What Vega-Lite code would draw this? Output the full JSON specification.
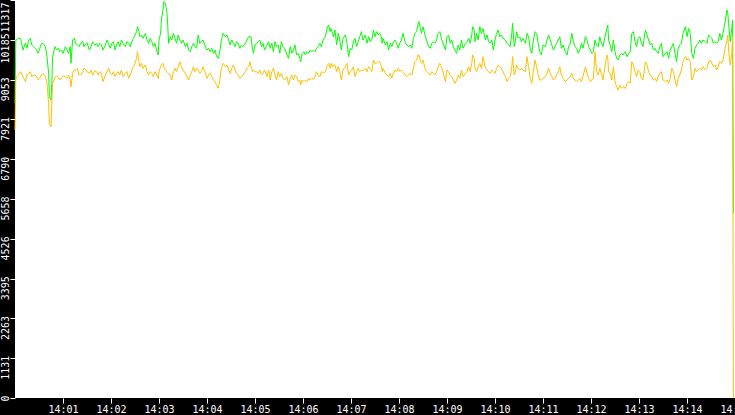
{
  "$schema": "https://vega.github.io/schema/vega-lite/v6.json",
  "autosize": "none",
  "width": 720,
  "height": 398,
  "padding": {"left": 15, "top": 0, "right": 0, "bottom": 17},
  "background": "black",
  "view": {"fill": "white", "stroke": null},
  "config": {
    "axis": {
      "labelFont": "DejaVu Sans Mono",
      "labelFontSize": 10,
      "labelColor": "white",
      "tickColor": "white",
      "tickSize": 5,
      "domain": false,
      "grid": false,
      "title": null,
      "labelOverlap": false,
      "labelBound": false,
      "labelFlush": false
    }
  },
  "data": {
    "values": [
      {"t":0,"g":8379,"o":7621},{"t":1,"g":10180,"o":9042},{"t":2,"g":10180,"o":9137},{"t":4,"g":10227,"o":9184},
      {"t":7,"g":10227,"o":9279},{"t":10,"g":9895,"o":9137},{"t":13,"g":10085,"o":8995},{"t":15,"g":9943,"o":9184},
      {"t":17,"g":10180,"o":9232},{"t":19,"g":10227,"o":9279},{"t":21,"g":10037,"o":9137},{"t":23,"g":9990,"o":9184},
      {"t":25,"g":9943,"o":9184},{"t":27,"g":9895,"o":9137},{"t":29,"g":9800,"o":9042},{"t":31,"g":9943,"o":9090},
      {"t":33,"g":10085,"o":9184},{"t":35,"g":10085,"o":9232},{"t":38,"g":9990,"o":9137},{"t":40,"g":9706,"o":8948},
      {"t":42,"g":9232,"o":8379},{"t":43,"g":8568,"o":7810},{"t":45,"g":8474,"o":7715},{"t":46,"g":8948,"o":8379},
      {"t":47,"g":9706,"o":8948},{"t":49,"g":9895,"o":9042},{"t":50,"g":9990,"o":9118},{"t":52,"g":9895,"o":9156},
      {"t":54,"g":9943,"o":9118},{"t":56,"g":9848,"o":9042},{"t":58,"g":9895,"o":9109},{"t":60,"g":9800,"o":9156},
      {"t":63,"g":9990,"o":9137},{"t":65,"g":9895,"o":9090},{"t":67,"g":9800,"o":9184},{"t":69,"g":9990,"o":9042},
      {"t":70,"g":9516,"o":8853},{"t":72,"g":10180,"o":9232},{"t":74,"g":10227,"o":9327},{"t":76,"g":10085,"o":9327},
      {"t":78,"g":10037,"o":9374},{"t":80,"g":9990,"o":9184},{"t":82,"g":10085,"o":9184},{"t":85,"g":10132,"o":9279},
      {"t":86,"g":9990,"o":9374},{"t":89,"g":10085,"o":9327},{"t":90,"g":10104,"o":9279},{"t":93,"g":9895,"o":9232},
      {"t":95,"g":9990,"o":9327},{"t":97,"g":10132,"o":9184},{"t":100,"g":10037,"o":9308},{"t":102,"g":10085,"o":9279},
      {"t":104,"g":9990,"o":9184},{"t":106,"g":10085,"o":9279},{"t":108,"g":10037,"o":9232},{"t":110,"g":9895,"o":8995},
      {"t":113,"g":10037,"o":9184},{"t":115,"g":10180,"o":9279},{"t":117,"g":10085,"o":9374},{"t":119,"g":9943,"o":9232},
      {"t":121,"g":10085,"o":9184},{"t":123,"g":10132,"o":9279},{"t":125,"g":9895,"o":9137},{"t":127,"g":10037,"o":9232},
      {"t":129,"g":10132,"o":9279},{"t":131,"g":9990,"o":9184},{"t":133,"g":10180,"o":9327},{"t":135,"g":10085,"o":9137},
      {"t":138,"g":9990,"o":9232},{"t":140,"g":10132,"o":9279},{"t":142,"g":10085,"o":9090},{"t":144,"g":9990,"o":9184},
      {"t":146,"g":10132,"o":9327},{"t":148,"g":10227,"o":9421},{"t":150,"g":10322,"o":9516},{"t":152,"g":10417,"o":9658},
      {"t":153,"g":10559,"o":9848},{"t":155,"g":10417,"o":9564},{"t":156,"g":10274,"o":9421},{"t":158,"g":10322,"o":9516},
      {"t":160,"g":10227,"o":9374},{"t":163,"g":10369,"o":9469},{"t":165,"g":10180,"o":9279},{"t":167,"g":10085,"o":9184},
      {"t":169,"g":10227,"o":9279},{"t":171,"g":10132,"o":9232},{"t":173,"g":9990,"o":9137},{"t":175,"g":10085,"o":9279},
      {"t":177,"g":9895,"o":9184},{"t":179,"g":9753,"o":9090},{"t":180,"g":10180,"o":9279},{"t":182,"g":10369,"o":9421},
      {"t":183,"g":10748,"o":9469},{"t":185,"g":11033,"o":9516},{"t":186,"g":11270,"o":9421},{"t":188,"g":11222,"o":9327},
      {"t":190,"g":10938,"o":9279},{"t":191,"g":10559,"o":9251},{"t":192,"g":10085,"o":9213},{"t":194,"g":10274,"o":9184},
      {"t":196,"g":10180,"o":9042},{"t":198,"g":10369,"o":9279},{"t":200,"g":10227,"o":9374},{"t":202,"g":10085,"o":9279},
      {"t":204,"g":10322,"o":9421},{"t":206,"g":10180,"o":9564},{"t":208,"g":10085,"o":9421},{"t":210,"g":10180,"o":9327},
      {"t":213,"g":9990,"o":9232},{"t":215,"g":10085,"o":9137},{"t":217,"g":9895,"o":9042},{"t":219,"g":9848,"o":9184},
      {"t":221,"g":9990,"o":9279},{"t":223,"g":10085,"o":9421},{"t":225,"g":9990,"o":9279},{"t":227,"g":9943,"o":9374},
      {"t":229,"g":10322,"o":9327},{"t":231,"g":10085,"o":9232},{"t":233,"g":10132,"o":9279},{"t":235,"g":10180,"o":9421},
      {"t":238,"g":9990,"o":9232},{"t":240,"g":9895,"o":9090},{"t":242,"g":9943,"o":9184},{"t":244,"g":9848,"o":9232},
      {"t":246,"g":9943,"o":9137},{"t":248,"g":9800,"o":9042},{"t":250,"g":9895,"o":8995},{"t":252,"g":9706,"o":8900},
      {"t":254,"g":9658,"o":8805},{"t":256,"g":9848,"o":9042},{"t":258,"g":10180,"o":9374},{"t":260,"g":10369,"o":9516},
      {"t":263,"g":10274,"o":9421},{"t":265,"g":10322,"o":9469},{"t":267,"g":10180,"o":9327},{"t":269,"g":10037,"o":9232},
      {"t":271,"g":10180,"o":9374},{"t":273,"g":10085,"o":9469},{"t":275,"g":9990,"o":9327},{"t":277,"g":10132,"o":9232},
      {"t":279,"g":10085,"o":9184},{"t":281,"g":9943,"o":9090},{"t":283,"g":10037,"o":9137},{"t":285,"g":9990,"o":9184},
      {"t":288,"g":10085,"o":9279},{"t":290,"g":10180,"o":9374},{"t":292,"g":10274,"o":9421},{"t":294,"g":10274,"o":9564},
      {"t":295,"g":10274,"o":9421},{"t":297,"g":9895,"o":9279},{"t":298,"g":9800,"o":9327},{"t":300,"g":10037,"o":9279},
      {"t":302,"g":10085,"o":9279},{"t":304,"g":10132,"o":9232},{"t":306,"g":10180,"o":9327},{"t":308,"g":9990,"o":9184},
      {"t":310,"g":10085,"o":9232},{"t":312,"g":9895,"o":9327},{"t":315,"g":10037,"o":9137},{"t":317,"g":10132,"o":9327},
      {"t":319,"g":9943,"o":9042},{"t":321,"g":10085,"o":9279},{"t":323,"g":9848,"o":9374},{"t":325,"g":10132,"o":9184},
      {"t":327,"g":9990,"o":9042},{"t":329,"g":10037,"o":9279},{"t":331,"g":9800,"o":9137},{"t":333,"g":10132,"o":9232},
      {"t":335,"g":9990,"o":9090},{"t":337,"g":9943,"o":9042},{"t":340,"g":9753,"o":9137},{"t":342,"g":9658,"o":8900},
      {"t":344,"g":9990,"o":9090},{"t":346,"g":9800,"o":9184},{"t":348,"g":9895,"o":9042},{"t":350,"g":10037,"o":9184},
      {"t":352,"g":9753,"o":9137},{"t":354,"g":9800,"o":8995},{"t":356,"g":9658,"o":9042},{"t":357,"g":9564,"o":8900},
      {"t":359,"g":9800,"o":9042},{"t":361,"g":9848,"o":8995},{"t":363,"g":9753,"o":9042},{"t":365,"g":9848,"o":8995},
      {"t":367,"g":9800,"o":9090},{"t":369,"g":9895,"o":9042},{"t":371,"g":9848,"o":9090},{"t":373,"g":9895,"o":9061},
      {"t":375,"g":9848,"o":9137},{"t":377,"g":9943,"o":9279},{"t":379,"g":9990,"o":9184},{"t":381,"g":10085,"o":9137},
      {"t":383,"g":9990,"o":9279},{"t":385,"g":10180,"o":9232},{"t":388,"g":10274,"o":9279},{"t":390,"g":10511,"o":9421},
      {"t":392,"g":10606,"o":9516},{"t":394,"g":10417,"o":9374},{"t":395,"g":10511,"o":9516},{"t":397,"g":10369,"o":9421},
      {"t":398,"g":10274,"o":9469},{"t":400,"g":10464,"o":9469},{"t":402,"g":10037,"o":9279},{"t":404,"g":10369,"o":9421},
      {"t":406,"g":10180,"o":9279},{"t":408,"g":9895,"o":9042},{"t":410,"g":10227,"o":9327},{"t":413,"g":10322,"o":9421},
      {"t":415,"g":10085,"o":9516},{"t":417,"g":9706,"o":9184},{"t":419,"g":9943,"o":9279},{"t":421,"g":9895,"o":9327},
      {"t":423,"g":10132,"o":9421},{"t":425,"g":10227,"o":9137},{"t":427,"g":9990,"o":9279},{"t":429,"g":10132,"o":9374},
      {"t":431,"g":10274,"o":9279},{"t":433,"g":10417,"o":9327},{"t":435,"g":10180,"o":9308},{"t":438,"g":10322,"o":9374},
      {"t":440,"g":10085,"o":9279},{"t":442,"g":10274,"o":9421},{"t":444,"g":10132,"o":9374},{"t":446,"g":10180,"o":9279},
      {"t":448,"g":10464,"o":9611},{"t":450,"g":10274,"o":9516},{"t":452,"g":10417,"o":9516},{"t":454,"g":10322,"o":9564},
      {"t":456,"g":10369,"o":9564},{"t":458,"g":10274,"o":9421},{"t":459,"g":10085,"o":9279},{"t":460,"g":10227,"o":9374},
      {"t":463,"g":10037,"o":9232},{"t":465,"g":10132,"o":9184},{"t":467,"g":9895,"o":9137},{"t":469,"g":10085,"o":9232},
      {"t":471,"g":9990,"o":9090},{"t":473,"g":10132,"o":9232},{"t":475,"g":10180,"o":9327},{"t":477,"g":10085,"o":9279},
      {"t":479,"g":9943,"o":9374},{"t":481,"g":10085,"o":9279},{"t":483,"g":10180,"o":9327},{"t":485,"g":10369,"o":9279},
      {"t":488,"g":10085,"o":9184},{"t":490,"g":10037,"o":9137},{"t":492,"g":9990,"o":9184},{"t":494,"g":10037,"o":9232},
      {"t":496,"g":9943,"o":9184},{"t":498,"g":10227,"o":9374},{"t":500,"g":10369,"o":9564},{"t":502,"g":10417,"o":9611},
      {"t":504,"g":10654,"o":9753},{"t":505,"g":10701,"o":9753},{"t":507,"g":10464,"o":9564},{"t":508,"g":10369,"o":9516},
      {"t":510,"g":10559,"o":9611},{"t":513,"g":10274,"o":9327},{"t":515,"g":10132,"o":9279},{"t":517,"g":9990,"o":9232},
      {"t":519,"g":9943,"o":9184},{"t":521,"g":10085,"o":9279},{"t":523,"g":10132,"o":9232},{"t":525,"g":10085,"o":9184},
      {"t":527,"g":10180,"o":9279},{"t":529,"g":10369,"o":9421},{"t":531,"g":10417,"o":9516},{"t":533,"g":10227,"o":9421},
      {"t":535,"g":10085,"o":9279},{"t":538,"g":9895,"o":8995},{"t":540,"g":10274,"o":9327},{"t":542,"g":10322,"o":9279},
      {"t":544,"g":10085,"o":9184},{"t":546,"g":10180,"o":9137},{"t":548,"g":9990,"o":9042},{"t":550,"g":9895,"o":8948},
      {"t":552,"g":9800,"o":9042},{"t":554,"g":10037,"o":9184},{"t":556,"g":9895,"o":9090},{"t":558,"g":10180,"o":9327},
      {"t":560,"g":9943,"o":9137},{"t":563,"g":10085,"o":9232},{"t":565,"g":10132,"o":9279},{"t":567,"g":10227,"o":9421},
      {"t":569,"g":10085,"o":9279},{"t":571,"g":10322,"o":9516},{"t":572,"g":10559,"o":9753},{"t":574,"g":10464,"o":9658},
      {"t":575,"g":10132,"o":9374},{"t":577,"g":10369,"o":9279},{"t":579,"g":10180,"o":9421},{"t":581,"g":10559,"o":9516},
      {"t":583,"g":10369,"o":9374},{"t":585,"g":10511,"o":9706},{"t":588,"g":10180,"o":9374},{"t":590,"g":10322,"o":9327},
      {"t":592,"g":10132,"o":9279},{"t":594,"g":10085,"o":9232},{"t":596,"g":10180,"o":9327},{"t":598,"g":9895,"o":9279},
      {"t":600,"g":10180,"o":9232},{"t":602,"g":10369,"o":9374},{"t":604,"g":10464,"o":9469},{"t":606,"g":10274,"o":9421},
      {"t":608,"g":10322,"o":9374},{"t":610,"g":10227,"o":9279},{"t":613,"g":10180,"o":9137},{"t":615,"g":10085,"o":8995},
      {"t":617,"g":10037,"o":9090},{"t":619,"g":9990,"o":9137},{"t":621,"g":10369,"o":9421},{"t":622,"g":10654,"o":9706},
      {"t":624,"g":9990,"o":9184},{"t":625,"g":10085,"o":9232},{"t":627,"g":10417,"o":9469},{"t":629,"g":10227,"o":9374},
      {"t":631,"g":10274,"o":9327},{"t":633,"g":10132,"o":9374},{"t":635,"g":10227,"o":9327},{"t":638,"g":10085,"o":9279},
      {"t":640,"g":10369,"o":9706},{"t":642,"g":10274,"o":9421},{"t":644,"g":9943,"o":9090},{"t":646,"g":9800,"o":8948},
      {"t":648,"g":10180,"o":9279},{"t":650,"g":10417,"o":9611},{"t":652,"g":10369,"o":9421},{"t":654,"g":10085,"o":9184},
      {"t":656,"g":9848,"o":9042},{"t":658,"g":9753,"o":9042},{"t":660,"g":10037,"o":9090},{"t":663,"g":9990,"o":9137},
      {"t":665,"g":10180,"o":9232},{"t":667,"g":10322,"o":9374},{"t":669,"g":10180,"o":9232},{"t":671,"g":10037,"o":9137},
      {"t":673,"g":9895,"o":9042},{"t":675,"g":9990,"o":9090},{"t":677,"g":10085,"o":9184},{"t":679,"g":10180,"o":9279},
      {"t":681,"g":10274,"o":9421},{"t":683,"g":9943,"o":9184},{"t":685,"g":10037,"o":9090},{"t":688,"g":9848,"o":8995},
      {"t":690,"g":9753,"o":9042},{"t":692,"g":9990,"o":9090},{"t":694,"g":10085,"o":9137},{"t":696,"g":10369,"o":9232},
      {"t":698,"g":10132,"o":9090},{"t":700,"g":9990,"o":9042},{"t":702,"g":9943,"o":8995},{"t":704,"g":9800,"o":9042},
      {"t":706,"g":9895,"o":9090},{"t":708,"g":10085,"o":8995},{"t":710,"g":9943,"o":9137},{"t":713,"g":10274,"o":9421},
      {"t":715,"g":10180,"o":9232},{"t":717,"g":9990,"o":9090},{"t":719,"g":9895,"o":8995},{"t":721,"g":9800,"o":9042},
      {"t":723,"g":9848,"o":9090},{"t":725,"g":10180,"o":9848},{"t":727,"g":10037,"o":9279},{"t":729,"g":9990,"o":9184},
      {"t":731,"g":10274,"o":9374},{"t":733,"g":10085,"o":9232},{"t":735,"g":9990,"o":9042},{"t":738,"g":10322,"o":9516},
      {"t":740,"g":10511,"o":9753},{"t":741,"g":10606,"o":9658},{"t":742,"g":10180,"o":9279},{"t":744,"g":10037,"o":9232},
      {"t":746,"g":9848,"o":9042},{"t":748,"g":10180,"o":9421},{"t":750,"g":9848,"o":8995},{"t":752,"g":9658,"o":8853},
      {"t":754,"g":9611,"o":8758},{"t":756,"g":9753,"o":8900},{"t":758,"g":9800,"o":8805},{"t":760,"g":9753,"o":8853},
      {"t":763,"g":9848,"o":8805},{"t":765,"g":9706,"o":8948},{"t":767,"g":9800,"o":8995},{"t":769,"g":9848,"o":8948},
      {"t":771,"g":10369,"o":9564},{"t":773,"g":10417,"o":9469},{"t":775,"g":10132,"o":9279},{"t":777,"g":9990,"o":9137},
      {"t":779,"g":10227,"o":9327},{"t":781,"g":10274,"o":9279},{"t":783,"g":10085,"o":9090},{"t":785,"g":9990,"o":9042},
      {"t":788,"g":10464,"o":9564},{"t":790,"g":10322,"o":9469},{"t":792,"g":10180,"o":9279},{"t":794,"g":10037,"o":9184},
      {"t":796,"g":10085,"o":9137},{"t":798,"g":9895,"o":9042},{"t":800,"g":9943,"o":9090},{"t":802,"g":9848,"o":8995},
      {"t":804,"g":9800,"o":9137},{"t":806,"g":9990,"o":9232},{"t":808,"g":10085,"o":9279},{"t":810,"g":9706,"o":9042},
      {"t":813,"g":9800,"o":8995},{"t":815,"g":9848,"o":9042},{"t":817,"g":9658,"o":8948},{"t":819,"g":9895,"o":9090},
      {"t":821,"g":9990,"o":9374},{"t":823,"g":10085,"o":9279},{"t":825,"g":9800,"o":9042},{"t":827,"g":9564,"o":8853},
      {"t":829,"g":9943,"o":9090},{"t":831,"g":10037,"o":9184},{"t":833,"g":10085,"o":9327},{"t":835,"g":10369,"o":9564},
      {"t":838,"g":10559,"o":9706},{"t":840,"g":10274,"o":9611},{"t":842,"g":10511,"o":9658},{"t":844,"g":10369,"o":9564},
      {"t":846,"g":9800,"o":9042},{"t":848,"g":9658,"o":9137},{"t":850,"g":9943,"o":9374},{"t":852,"g":10037,"o":9279},
      {"t":854,"g":10085,"o":9327},{"t":856,"g":10180,"o":9374},{"t":858,"g":10085,"o":9327},{"t":860,"g":10180,"o":9421},
      {"t":863,"g":10132,"o":9327},{"t":865,"g":10085,"o":9374},{"t":867,"g":10322,"o":9564},{"t":869,"g":10274,"o":9611},
      {"t":871,"g":10227,"o":9516},{"t":873,"g":10085,"o":9421},{"t":875,"g":10132,"o":9469},{"t":877,"g":10085,"o":9327},
      {"t":879,"g":10132,"o":9421},{"t":881,"g":10369,"o":9564},{"t":883,"g":10180,"o":9516},{"t":885,"g":10369,"o":9611},
      {"t":888,"g":10748,"o":9990},{"t":890,"g":11033,"o":10180},{"t":891,"g":10938,"o":10322},{"t":892,"g":10654,"o":9895},
      {"t":894,"g":10132,"o":9469},{"t":896,"g":10511,"o":9800},{"t":897,"g":10748,"o":10274},{"t":898,"g":5251,"o":0}
    ]
  },
  "transform": [{"fold": ["g", "o"], "as": ["series", "value"]}],
  "mark": {"type": "line", "strokeWidth": 1, "interpolate": "linear"},
  "encoding": {
    "x": {
      "field": "t",
      "type": "quantitative",
      "scale": {"domain": [0, 900], "nice": false, "zero": false},
      "axis": {
        "values": [60, 120, 180, 240, 300, 360, 420, 480, 540, 600, 660, 720, 780, 840, 900],
        "labelExpr": "'14:' + (datum.value < 600 ? '0' : '') + (datum.value / 60)",
        "labelPadding": 1,
        "labelBaseline": "top",
        "labelAlign": "center"
      }
    },
    "y": {
      "field": "value",
      "type": "quantitative",
      "scale": {"domain": [0, 11317], "nice": false},
      "axis": {
        "values": [0, 1131, 2263, 3395, 4526, 5658, 6790, 7921, 9053, 10185, 11317],
        "format": "d",
        "labelAngle": 270,
        "labelAlign": "right",
        "labelBaseline": "bottom",
        "labelPadding": 0,
        "labelOffset": {"condition": [{"test": "datum.value == 11317", "value": 2}, {"test": "datum.value == 10185", "value": -7}], "value": -3}
      }
    },
    "color": {
      "field": "series",
      "type": "nominal",
      "scale": {"domain": ["g", "o"], "range": ["#00ff00", "#ffc000"]},
      "legend": null
    }
  }
}
